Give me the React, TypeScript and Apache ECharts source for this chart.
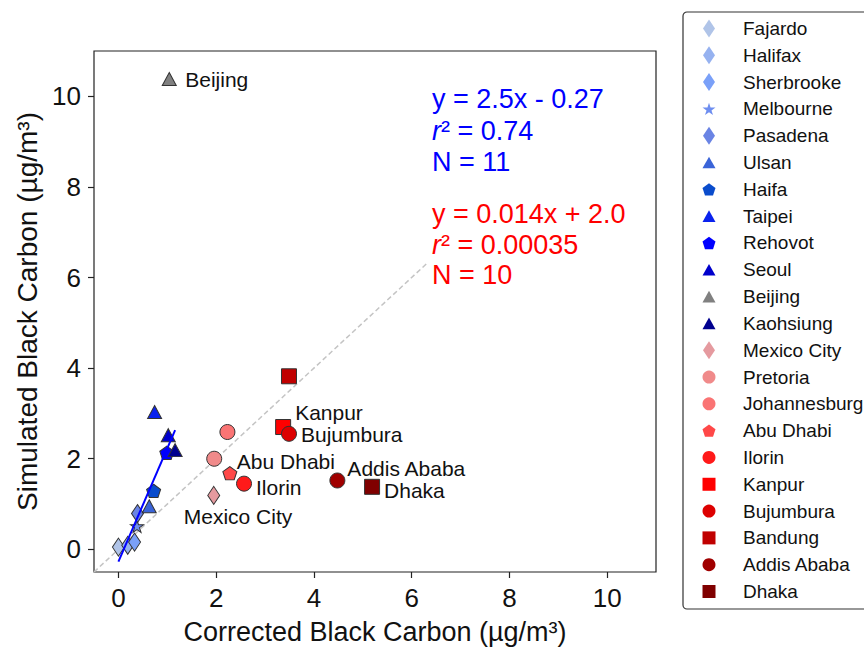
import React, { useEffect, useRef } from 'react';
import * as echarts from 'echarts';

// ---------- data ----------
const cities = [
  'Fajardo', 'Halifax', 'Sherbrooke', 'Melbourne', 'Pasadena', 'Ulsan', 'Haifa', 'Taipei',
  'Rehovot', 'Seoul', 'Beijing', 'Kaohsiung', 'Mexico City', 'Pretoria', 'Johannesburg',
  'Abu Dhabi', 'Ilorin', 'Kanpur', 'Bujumbura', 'Bandung', 'Addis Ababa', 'Dhaka',
];
const correctedBC = [0.0, 0.19, 0.33, 0.38, 0.39, 0.63, 0.72, 0.74, 0.99, 1.02, 1.04, 1.16, 1.95, 1.96, 2.23, 2.28, 2.57, 3.37, 3.49, 3.49, 4.48, 5.19];
const simulatedBC = [0.05, 0.09, 0.16, 0.51, 0.79, 0.95, 1.29, 3.03, 2.13, 2.52, 10.38, 2.19, 1.19, 2.0, 2.59, 1.68, 1.45, 2.70, 2.55, 3.82, 1.52, 1.38];

const xTicks = [0, 2, 4, 6, 8, 10];
const yTicks = [0, 2, 4, 6, 8, 10];

// blue-group regression (cities 0..11 except Beijing)
const blueFit = { slope: 2.5, intercept: -0.27, xFrom: 0.0, xTo: 1.16 };
const oneToOne = [-0.5, 6.3];

const blueText = ['y = 2.5x - 0.27', '{i|r}\u00b2 = 0.74', 'N = 11'];
const redText = ['y = 0.014x + 2.0', '{i|r}\u00b2 = 0.00035', 'N = 10'];

// ---------- styles ----------
const markerShapes = [
  'diamond', 'diamond', 'diamond', 'star', 'diamond', 'triangle', 'pentagon', 'triangle',
  'pentagon', 'triangle', 'triangle', 'triangle', 'diamond', 'circle', 'circle',
  'pentagon', 'circle', 'square', 'circle', 'square', 'circle', 'square',
];
const markerColors = [
  '#b0c4e8', '#96b2f0', '#7aa0f8', '#6e8ef0', '#6a84e4', '#3a64d8', '#0a4ccc', '#0a22ee',
  '#0000ff', '#0000cc', '#808080', '#00008f', '#e59a9f', '#f08a8a', '#fa7474',
  '#ff4848', '#ff1a1a', '#ff0000', '#dd0000', '#c00000', '#a00000', '#800000',
];
const labelOffsets: Record<string, [number, number]> = {
  'Beijing': [16, 0],
  'Kanpur': [12, -15],
  'Bujumbura': [12, 1],
  'Abu Dhabi': [7, -12],
  'Ilorin': [12, 4],
  'Addis Ababa': [10, -12],
  'Dhaka': [12, 4],
  'Mexico City': [-30, 21],
};

const SYMBOLS: Record<string, string> = {
  diamond: 'path://M6,0 L12,9 L6,18 L0,9 Z',
  triangle: 'path://M7,0 L14,12.5 L0,12.5 Z',
  square: 'path://M0,0 L10,0 L10,10 L0,10 Z',
  pentagon: 'path://M10,0 L19.511,6.91 L15.878,18.09 L4.122,18.09 L0.489,6.91 Z',
  star: 'path://M10,0 L12.245,6.91 L19.511,6.91 L13.633,11.18 L15.878,18.09 L10,13.82 L4.122,18.09 L6.367,11.18 L0.489,6.91 L7.755,6.91 Z',
  circle: 'circle',
};
const SIZES: Record<string, number | number[]> = {
  diamond: [12, 18],
  triangle: [14, 13],
  square: [15, 15],
  pentagon: [14, 13.3],
  star: [13, 12.4],
  circle: 15,
};

const FONT = '"Liberation Sans", Arial, Helvetica, sans-serif';

export default function App() {
  const ref = useRef<HTMLDivElement>(null);

  useEffect(() => {
    if (!ref.current) return;
    const chart = echarts.init(ref.current, undefined, { renderer: 'svg' });

    const scatterSeries = cities.map((name, i) => {
      const shape = markerShapes[i];
      const off = labelOffsets[name];
      return {
        type: 'scatter',
        name,
        z: 3,
        symbol: SYMBOLS[shape],
        symbolSize: SIZES[shape],
        itemStyle: { color: markerColors[i], borderColor: '#333333', borderWidth: 1, opacity: 1 },
        data: [[correctedBC[i], simulatedBC[i]]],
        label: off
          ? {
              show: true,
              position: 'inside',
              align: 'left',
              verticalAlign: 'middle',
              offset: off,
              formatter: name,
              fontSize: 21,
              lineHeight: 19,
              color: '#111111',
              fontFamily: FONT,
            }
          : { show: false },
        emphasis: { disabled: true },
        silent: true,
      };
    });

    const fitData = [
      [blueFit.xFrom, blueFit.slope * blueFit.xFrom + blueFit.intercept],
      [blueFit.xTo, blueFit.slope * blueFit.xTo + blueFit.intercept],
    ];

    const textLine = (txt: string, y: number, color: string) => ({
      type: 'text',
      x: 432,
      y,
      silent: true,
      style: {
        text: txt,
        fill: color,
        fontSize: 27,
        fontFamily: FONT,
        align: 'left',
        verticalAlign: 'middle',
        rich: { i: { fontStyle: 'italic', fontSize: 27, fontFamily: FONT, fill: color } },
      },
    });

    const option: any = {
      animation: false,
      backgroundColor: '#ffffff',
      grid: {
        left: 94,
        top: 51,
        width: 562,
        height: 521,
        show: true,
        borderColor: '#222222',
        borderWidth: 1.2,
        backgroundColor: 'transparent',
        outerBoundsMode: 'none',
        containLabel: false,
      },
      xAxis: {
        type: 'value',
        min: -0.5,
        max: 11,
        name: 'Corrected Black Carbon (\u00b5g/m\u00b3)',
        nameLocation: 'middle',
        nameGap: 46,
        nameTextStyle: { fontSize: 27, color: '#111111', fontFamily: FONT },
        axisLine: { show: false, onZero: false },
        axisTick: { show: true, length: 6, lineStyle: { color: '#222222', width: 1.2 }, customValues: xTicks },
        axisLabel: { fontSize: 26, color: '#111111', fontFamily: FONT, margin: 13, customValues: xTicks },
        splitLine: { show: false },
      },
      yAxis: {
        type: 'value',
        min: -0.5,
        max: 11,
        name: 'Simulated Black Carbon (\u00b5g/m\u00b3)',
        nameLocation: 'middle',
        nameGap: 51,
        nameTextStyle: { fontSize: 28, color: '#111111', fontFamily: FONT },
        axisLine: { show: false, onZero: false },
        axisTick: { show: true, length: 6, lineStyle: { color: '#222222', width: 1.2 }, customValues: yTicks },
        axisLabel: { fontSize: 26, color: '#111111', fontFamily: FONT, margin: 13, customValues: yTicks },
        splitLine: { show: false },
      },
      legend: {
        orient: 'vertical',
        left: 683,
        top: 12,
        padding: [7, 30, 8, 19.5],
        itemWidth: 13,
        itemHeight: 18,
        itemGap: 7.81,
        backgroundColor: '#ffffff',
        borderColor: '#333333',
        borderWidth: 1.2,
        borderRadius: 4,
        selectedMode: false,
        itemStyle: { borderWidth: 0, opacity: 1 },
        formatter: '{t|{name}}',
        textStyle: {
          fontSize: 19,
          lineHeight: 18,
          color: '#111111',
          fontFamily: FONT,
          rich: { t: { fontSize: 19, lineHeight: 18, color: '#111111', fontFamily: FONT, padding: [0, 0, 0, 22.5] } },
        },
        data: cities.map((name, i) => ({ name, icon: SYMBOLS[markerShapes[i]] })),
      },
      graphic: [
        ...blueText.map((t, k) => textLine(t, 99 + k * 31.5, '#0000ff')),
        ...redText.map((t, k) => textLine(t, 214 + k * 30.5, '#ff0000')),
      ],
      series: [
        {
          type: 'line',
          name: '1:1',
          z: 1,
          silent: true,
          symbol: 'none',
          data: [[oneToOne[0], oneToOne[0]], [oneToOne[1], oneToOne[1]]],
          lineStyle: { color: '#c4c4c4', width: 1.5, type: [5, 3] },
        },
        ...scatterSeries,
        {
          type: 'line',
          name: 'fit',
          z: 5,
          silent: true,
          symbol: 'none',
          data: fitData,
          lineStyle: { color: '#0000ff', width: 2 },
        },
      ],
    };

    chart.setOption(option);
    return () => chart.dispose();
  }, []);

  return (
    <div
      ref={ref}
      style={{ position: 'fixed', left: 0, top: 0, width: 864, height: 647, background: '#fff' }}
    />
  );
}
